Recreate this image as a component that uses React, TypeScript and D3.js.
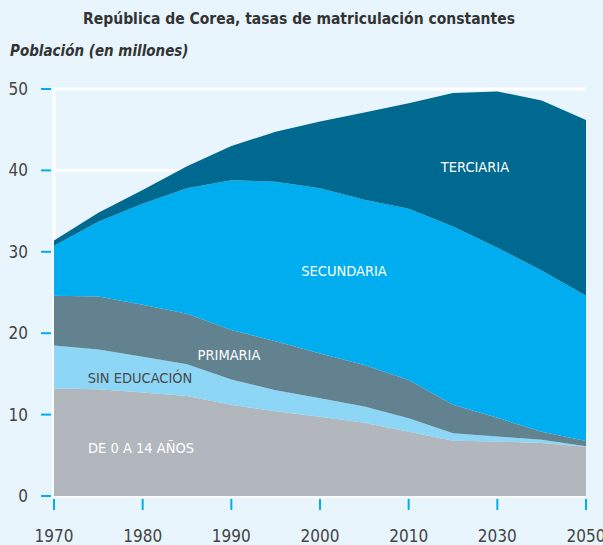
import React from 'react';
import * as d3 from 'd3';

const years = ['1970', '1975', '1980', '1985', '1990', '1995', '2000', '2005', '2010', '2020', '2030', '2040', '2050'];
const tickYears = ['1970', '1980', '1990', '2000', '2010', '2030', '2050'];
const yTicks = [0, 10, 20, 30, 40, 50];

const ninos = [13.2, 13.1, 12.7, 12.3, 11.2, 10.4, 9.75, 9.0, 7.9, 6.8, 6.7, 6.5, 6.05];
const sinEducacion = [5.3, 4.9, 4.4, 3.9, 3.1, 2.6, 2.25, 2.0, 1.65, 0.9, 0.6, 0.4, 0.05];
const primaria = [6.1, 6.5, 6.4, 6.2, 6.1, 6.0, 5.5, 5.1, 4.7, 3.5, 2.3, 1.0, 0.65];
const secundaria = [6.15, 9.2, 12.4, 15.4, 18.4, 19.6, 20.3, 20.3, 21.05, 21.9, 20.9, 19.8, 17.85];
const terciaria = [0.65, 1.1, 1.7, 2.7, 4.2, 6.15, 8.2, 10.7, 12.95, 16.4, 19.2, 20.9, 21.6];

const keys = ['ninos', 'sinEducacion', 'primaria', 'secundaria', 'terciaria'];
const colors: Record<string, string> = {
  ninos: '#b1b7bd',
  sinEducacion: '#8dd6f5',
  primaria: '#62828f',
  secundaria: '#00adee',
  terciaria: '#006990',
};

const font = '"Liberation Sans Narrow", "DejaVu Sans Condensed", "Open Sans", sans-serif';

export default function App() {
  const width = 603;
  const height = 545;

  const rows = years.map((y, i) => ({
    year: y,
    ninos: ninos[i],
    sinEducacion: sinEducacion[i],
    primaria: primaria[i],
    secundaria: secundaria[i],
    terciaria: terciaria[i],
  }));

  const x = d3.scalePoint<string>().domain(years).range([54, 586]);
  const y = d3.scaleLinear().domain([0, 50]).range([496, 89]);

  const series = d3.stack<any>().keys(keys)(rows);
  const area = d3
    .area<any>()
    .x((d) => x(d.data.year) as number)
    .y0((d) => y(d[0]))
    .y1((d) => y(d[1]));

  return (
    <div style={{ position: 'fixed', left: 0, top: 0, width, height, overflow: 'hidden' }}>
      <svg width={width} height={height} style={{ display: 'block', background: '#e8f5fc' }}>
        <text x={299} y={24} textAnchor="middle" fontFamily={font} fontWeight="bold" fontSize={15.5} fill="#333">
          República de Corea, tasas de matriculación constantes
        </text>
        <text x={10} y={56} fontFamily={font} fontWeight="bold" fontStyle="italic" fontSize={15} fill="#333">
          Población (en millones)
        </text>

        {yTicks.map((t) => (
          <line key={'g' + t} x1={54} x2={586} y1={y(t)} y2={y(t)} stroke="#fff" strokeWidth={3} />
        ))}
        <line x1={54} x2={54} y1={y(50) - 1.5} y2={y(0) + 1.5} stroke="#fff" strokeWidth={3} />

        {series.map((s) => (
          <path key={s.key} d={area(s) as string} fill={colors[s.key]} />
        ))}

        {yTicks.map((t) => (
          <g key={'yt' + t}>
            <line x1={41} x2={51} y1={y(t)} y2={y(t)} stroke="#00aeef" strokeWidth={2} />
            <text x={28} y={y(t) + 6} textAnchor="end" fontFamily={font} fontSize={17} fill="#444">
              {t}
            </text>
          </g>
        ))}

        {tickYears.map((t) => (
          <g key={'xt' + t}>
            <line x1={x(t)} x2={x(t)} y1={499} y2={510} stroke="#00aeef" strokeWidth={2} />
            <text x={x(t)} y={542} textAnchor="middle" fontFamily={font} fontSize={17} fill="#444">
              {t}
            </text>
          </g>
        ))}

        <g fontFamily={font} fontSize={14.5}>
          <text x={475} y={172} textAnchor="middle" fill="#fff">TERCIARIA</text>
          <text x={344} y={276} textAnchor="middle" fill="#fff">SECUNDARIA</text>
          <text x={229} y={360} textAnchor="middle" fill="#fff">PRIMARIA</text>
          <text x={140} y={383} textAnchor="middle" fill="#4a4a4a">SIN EDUCACIÓN</text>
          <text x={141} y={453} textAnchor="middle" fill="#fff">DE 0 A 14 AÑOS</text>
        </g>
      </svg>
    </div>
  );
}
